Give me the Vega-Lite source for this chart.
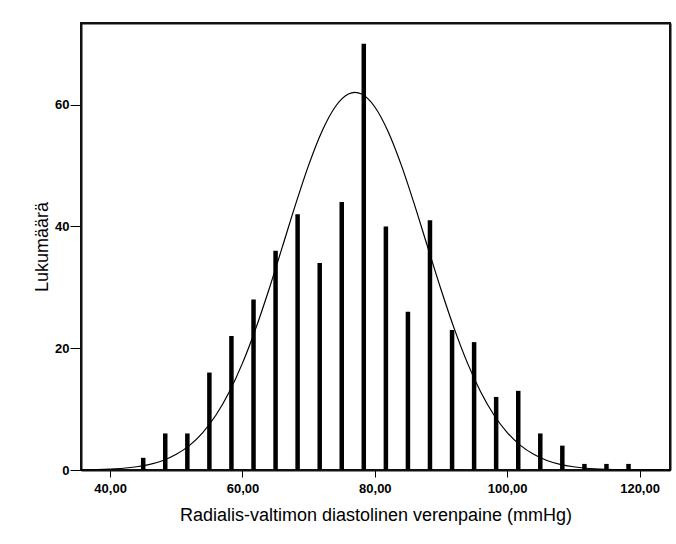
{
  "$schema": "https://vega.github.io/schema/vega-lite/v6.json",
  "width": 589,
  "height": 447,
  "autosize": {"type": "none"},
  "padding": {"left": 81, "top": 23, "right": 6, "bottom": 74},
  "background": "white",
  "config": {
    "font": "Liberation Sans",
    "view": {"stroke": "#111111", "strokeWidth": 2}
  },
  "resolve": {"axis": {"x": "independent", "y": "independent"}},
  "datasets": {
    "bars": [
      {"value": 45.0, "count": 2},
      {"value": 48.33, "count": 6},
      {"value": 51.67, "count": 6},
      {"value": 55.0, "count": 16},
      {"value": 58.33, "count": 22},
      {"value": 61.67, "count": 28},
      {"value": 65.0, "count": 36},
      {"value": 68.33, "count": 42},
      {"value": 71.67, "count": 34},
      {"value": 75.0, "count": 44},
      {"value": 78.33, "count": 70},
      {"value": 81.67, "count": 40},
      {"value": 85.0, "count": 26},
      {"value": 88.33, "count": 41},
      {"value": 91.67, "count": 23},
      {"value": 95.0, "count": 21},
      {"value": 98.33, "count": 12},
      {"value": 101.67, "count": 13},
      {"value": 105.0, "count": 6},
      {"value": 108.33, "count": 4},
      {"value": 111.67, "count": 1},
      {"value": 115.0, "count": 1},
      {"value": 118.33, "count": 1}
    ],
    "curve": [
      {"x": 35.6, "y": 0.035},
      {"x": 38, "y": 0.08},
      {"x": 40, "y": 0.16},
      {"x": 42, "y": 0.29},
      {"x": 44, "y": 0.53},
      {"x": 46, "y": 0.93},
      {"x": 48, "y": 1.57},
      {"x": 50, "y": 2.57},
      {"x": 52, "y": 4.04},
      {"x": 54, "y": 6.15},
      {"x": 56, "y": 9.03},
      {"x": 58, "y": 12.81},
      {"x": 60, "y": 17.55},
      {"x": 62, "y": 23.21},
      {"x": 64, "y": 29.64},
      {"x": 66, "y": 36.55},
      {"x": 68, "y": 43.53},
      {"x": 70, "y": 50.06},
      {"x": 72, "y": 55.59},
      {"x": 74, "y": 59.61},
      {"x": 76, "y": 61.73},
      {"x": 77, "y": 62.0},
      {"x": 78, "y": 61.73},
      {"x": 80, "y": 59.61},
      {"x": 82, "y": 55.59},
      {"x": 84, "y": 50.06},
      {"x": 86, "y": 43.53},
      {"x": 88, "y": 36.55},
      {"x": 90, "y": 29.64},
      {"x": 92, "y": 23.21},
      {"x": 94, "y": 17.55},
      {"x": 96, "y": 12.81},
      {"x": 98, "y": 9.03},
      {"x": 100, "y": 6.15},
      {"x": 102, "y": 4.04},
      {"x": 104, "y": 2.57},
      {"x": 106, "y": 1.57},
      {"x": 108, "y": 0.93},
      {"x": 110, "y": 0.53},
      {"x": 112, "y": 0.29},
      {"x": 114, "y": 0.16},
      {"x": 116, "y": 0.08},
      {"x": 118, "y": 0.04},
      {"x": 120, "y": 0.02},
      {"x": 124.6, "y": 0.003}
    ]
  },
  "layer": [
    {
      "data": {"name": "bars"},
      "mark": {"type": "rule", "color": "black", "strokeWidth": 4.5},
      "encoding": {
        "x": {
          "field": "value",
          "type": "quantitative",
          "scale": {"domain": [35.6, 124.6], "nice": false, "zero": false},
          "axis": {
            "values": [40, 60, 80, 100, 120],
            "labelExpr": "replace(format(datum.value, '.2f'), '.', ',')",
            "title": "Radialis-valtimon diastolinen verenpaine (mmHg)",
            "titleFont": "Liberation Sans",
            "titleFontSize": 18,
            "titleFontWeight": "normal",
            "titleColor": "black",
            "titlePadding": 11,
            "labelFont": "Liberation Sans",
            "labelFontSize": 13,
            "labelFontWeight": "bold",
            "labelColor": "black",
            "labelPadding": 5,
            "tickColor": "black",
            "tickSize": 7,
            "domainColor": "#111111",
            "domainWidth": 2,
            "grid": false
          }
        },
        "y": {
          "field": "count",
          "type": "quantitative",
          "scale": {"domain": [0, 73.4], "nice": false},
          "axis": {
            "values": [0, 20, 40, 60],
            "title": "Lukumäärä",
            "titleFont": "Liberation Sans",
            "titleFontSize": 18,
            "titleFontWeight": "normal",
            "titleColor": "black",
            "titlePadding": 3,
            "labelFont": "Liberation Sans",
            "labelFontSize": 13,
            "labelFontWeight": "bold",
            "labelColor": "black",
            "labelPadding": 1,
            "tickColor": "black",
            "tickSize": 11,
            "domainColor": "#111111",
            "domainWidth": 2,
            "grid": false
          }
        },
        "y2": {"datum": 0}
      }
    },
    {
      "data": {"name": "curve"},
      "mark": {"type": "line", "color": "black", "strokeWidth": 1.2, "interpolate": "monotone"},
      "encoding": {
        "x": {
          "field": "x",
          "type": "quantitative",
          "axis": {"orient": "top", "labels": false, "ticks": false, "title": null, "grid": false, "domainColor": "#111111", "domainWidth": 2}
        },
        "y": {
          "field": "y",
          "type": "quantitative",
          "axis": {"orient": "right", "labels": false, "ticks": false, "title": null, "grid": false, "domainColor": "#111111", "domainWidth": 2}
        }
      }
    }
  ]
}
